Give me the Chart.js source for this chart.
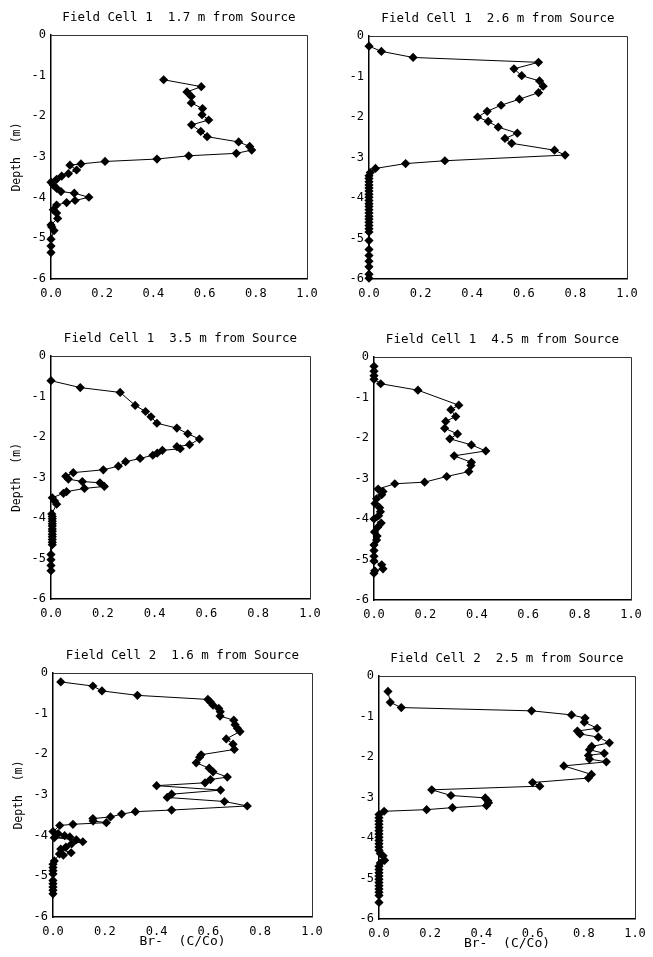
<!DOCTYPE html>
<html>
<head>
<meta charset="utf-8">
<script src="https://cdn.jsdelivr.net/npm/chart.js@4/dist/chart.umd.min.js"></script>
<style>
  html, body { margin: 0; padding: 0; background: #fff; overflow: hidden; }
  body { width: 653px; height: 957px; position: relative; }
  canvas { position: absolute; }
</style>
</head>
<body>
<script>
// Bromide profiles, [C/Co, depth (m)] top to bottom
const fc1_17m = [[0.44,-1.10],[0.587,-1.27],[0.531,-1.40],[0.548,-1.51],[0.548,-1.67],[0.592,-1.81],[0.590,-1.96],[0.616,-2.09],[0.549,-2.21],[0.585,-2.37],[0.610,-2.50],[0.733,-2.63],[0.776,-2.74],[0.784,-2.83],[0.724,-2.91],[0.538,-2.97],[0.414,-3.05],[0.211,-3.11],[0.117,-3.17],[0.074,-3.20],[0.100,-3.32],[0.068,-3.41],[0.042,-3.47],[0.022,-3.55],[0.000,-3.62],[0.009,-3.69],[0.022,-3.77],[0.039,-3.85],[0.091,-3.89],[0.148,-3.99],[0.094,-4.07],[0.061,-4.12],[0.022,-4.18],[0.009,-4.30],[0.022,-4.38],[0.026,-4.51],[0.0,-4.67],[0.003,-4.72],[0.012,-4.81],[0.0,-5.02],[0.0,-5.19],[0.0,-5.35]];

const fc1_26m = [[0.0,-0.25],[0.048,-0.38],[0.171,-0.53],[0.657,-0.65],[0.562,-0.81],[0.592,-0.98],[0.661,-1.11],[0.675,-1.24],[0.657,-1.40],[0.583,-1.56],[0.512,-1.71],[0.458,-1.86],[0.421,-2.00],[0.462,-2.11],[0.501,-2.25],[0.575,-2.40],[0.527,-2.53],[0.553,-2.65],[0.719,-2.82],[0.760,-2.94],[0.294,-3.08],[0.142,-3.15],[0.025,-3.27],[0.005,-3.37],[0,-3.45],[0,-3.52],[0,-3.60],[0,-3.68],[0,-3.75],[0,-3.83],[0,-3.91],[0,-3.98],[0,-4.06],[0,-4.14],[0,-4.21],[0,-4.29],[0,-4.37],[0,-4.45],[0,-4.52],[0,-4.60],[0,-4.68],[0,-4.76],[0,-4.84],[0,-5.05],[0,-5.27],[0,-5.42],[0,-5.56],[0,-5.70],[0,-5.88],[0,-5.98]];

const fc1_35m = [[0.0,-0.61],[0.113,-0.78],[0.267,-0.90],[0.325,-1.22],[0.365,-1.37],[0.386,-1.50],[0.409,-1.66],[0.486,-1.78],[0.528,-1.92],[0.573,-2.05],[0.535,-2.19],[0.486,-2.24],[0.499,-2.29],[0.430,-2.33],[0.410,-2.40],[0.393,-2.45],[0.344,-2.53],[0.288,-2.61],[0.260,-2.72],[0.202,-2.81],[0.086,-2.88],[0.057,-2.97],[0.067,-3.04],[0.121,-3.10],[0.189,-3.13],[0.206,-3.22],[0.129,-3.27],[0.060,-3.35],[0.048,-3.39],[0.005,-3.50],[0.014,-3.58],[0.022,-3.66],[0.003,-3.90],[0.005,-3.96],[0.005,-4.02],[0.005,-4.08],[0.005,-4.14],[0.005,-4.20],[0.005,-4.27],[0.005,-4.33],[0.005,-4.40],[0.005,-4.46],[0.005,-4.53],[0.005,-4.60],[0.005,-4.66],[0.0,-4.90],[0.0,-5.03],[0.0,-5.17],[0.0,-5.30]];

const fc1_45m = [[0.0,-0.23],[0.0,-0.35],[0.0,-0.46],[0.0,-0.55],[0.026,-0.66],[0.171,-0.82],[0.330,-1.19],[0.299,-1.30],[0.318,-1.47],[0.279,-1.59],[0.275,-1.76],[0.325,-1.90],[0.295,-2.02],[0.379,-2.17],[0.435,-2.32],[0.312,-2.44],[0.379,-2.60],[0.377,-2.68],[0.369,-2.83],[0.283,-2.95],[0.197,-3.09],[0.081,-3.13],[0.016,-3.26],[0.035,-3.32],[0.030,-3.40],[0.010,-3.50],[0.004,-3.62],[0.022,-3.72],[0.025,-3.82],[0.018,-3.92],[0.0,-4.00],[0.028,-4.10],[0.015,-4.20],[0.002,-4.32],[0.012,-4.42],[0.010,-4.52],[0.0,-4.64],[0.0,-4.78],[0.0,-4.92],[0.0,-5.04],[0.030,-5.13],[0.035,-5.23],[0.003,-5.28],[0.0,-5.34]];

const fc2_16m = [[0.030,-0.22],[0.154,-0.32],[0.189,-0.44],[0.326,-0.55],[0.598,-0.65],[0.607,-0.71],[0.618,-0.79],[0.640,-0.87],[0.646,-0.95],[0.645,-1.06],[0.698,-1.16],[0.703,-1.27],[0.712,-1.36],[0.722,-1.44],[0.669,-1.62],[0.695,-1.75],[0.700,-1.88],[0.572,-2.01],[0.566,-2.07],[0.553,-2.21],[0.603,-2.34],[0.618,-2.43],[0.673,-2.56],[0.608,-2.62],[0.587,-2.70],[0.400,-2.77],[0.647,-2.88],[0.458,-2.98],[0.441,-3.06],[0.662,-3.16],[0.750,-3.27],[0.458,-3.37],[0.318,-3.41],[0.265,-3.47],[0.222,-3.54],[0.154,-3.58],[0.155,-3.64],[0.206,-3.68],[0.077,-3.72],[0.026,-3.75],[0.0,-3.90],[0.020,-3.95],[0.045,-4.00],[0.065,-4.03],[0.005,-4.05],[0.090,-4.10],[0.115,-4.15],[0.072,-4.20],[0.050,-4.28],[0.030,-4.33],[0.070,-4.42],[0.040,-4.48],[0.025,-4.45],[0.005,-4.62],[0.0,-4.70],[0.0,-4.78],[0.0,-4.86],[0.0,-4.94],[0.0,-5.10],[0.0,-5.18],[0.0,-5.26],[0.0,-5.34],[0.0,-5.43]];

const fc2_25m = [[0.035,-0.38],[0.044,-0.65],[0.087,-0.78],[0.596,-0.86],[0.752,-0.96],[0.805,-1.04],[0.802,-1.14],[0.852,-1.29],[0.775,-1.36],[0.785,-1.43],[0.857,-1.51],[0.900,-1.65],[0.831,-1.74],[0.822,-1.82],[0.880,-1.91],[0.818,-1.96],[0.822,-2.05],[0.888,-2.12],[0.722,-2.22],[0.830,-2.43],[0.818,-2.52],[0.600,-2.63],[0.628,-2.72],[0.206,-2.81],[0.281,-2.95],[0.415,-3.01],[0.425,-3.08],[0.428,-3.13],[0.420,-3.20],[0.287,-3.25],[0.186,-3.30],[0.020,-3.34],[0.0,-3.42],[0.0,-3.50],[0.0,-3.58],[0.0,-3.66],[0.0,-3.74],[0.0,-3.82],[0.0,-3.90],[0.0,-3.98],[0.0,-4.06],[0.0,-4.14],[0.0,-4.22],[0.0,-4.30],[0.005,-4.38],[0.016,-4.44],[0.022,-4.55],[0.005,-4.62],[0.0,-4.70],[0.0,-4.78],[0.0,-4.86],[0.0,-4.94],[0.0,-5.02],[0.0,-5.10],[0.0,-5.18],[0.0,-5.26],[0.0,-5.34],[0.0,-5.42],[0.0,-5.59]];

const titles = [
  'Field Cell 1  1.7 m from Source',
  'Field Cell 1  2.6 m from Source',
  'Field Cell 1  3.5 m from Source',
  'Field Cell 1  4.5 m from Source',
  'Field Cell 2  1.6 m from Source',
  'Field Cell 2  2.5 m from Source'
];
const concTicks = [0, 0.2, 0.4, 0.6, 0.8, 1.0];
const depthTicks = [0, -1, -2, -3, -4, -5, -6];
const xAxisTitle = 'Br-  (C/Co)';
const yAxisTitle = 'Depth  (m)';

const FONT = "'DejaVu Sans Mono', 'Liberation Mono', monospace";

// plot box of each panel in page pixels: left, top, right, bottom
const panels = [
  { data: fc1_17m, box: [51, 35, 307, 279],  yTitle: true,  xTitle: false },
  { data: fc1_26m, box: [369, 36, 627, 279], yTitle: false, xTitle: false },
  { data: fc1_35m, box: [51, 356, 310, 599], yTitle: true,  xTitle: false },
  { data: fc1_45m, box: [374, 357, 631, 600], yTitle: false, xTitle: false },
  { data: fc2_16m, box: [53, 673, 312, 917], yTitle: true,  xTitle: true },
  { data: fc2_25m, box: [379, 676, 635, 919], yTitle: false, xTitle: true }
];

const YW = 50, TITLE_H = 32, PAD_R = 22;

// top and right sides of the box
const framePlugin = {
  id: 'frame',
  afterDraw(chart) {
    const { ctx, chartArea: a } = chart;
    ctx.save();
    ctx.strokeStyle = '#333';
    ctx.lineWidth = 1;
    ctx.beginPath();
    ctx.moveTo(a.left, Math.round(a.top) + 0.5);
    ctx.lineTo(Math.round(a.right) + 0.5, Math.round(a.top) + 0.5);
    ctx.lineTo(Math.round(a.right) + 0.5, a.bottom);
    ctx.stroke();
    ctx.restore();
  }
};

panels.forEach(function(p, i) {
  const [L, T, R, B] = p.box;
  const xh = p.xTitle ? 38 : 26;
  const canvas = document.createElement('canvas');
  canvas.width = (R - L) + YW + PAD_R;
  canvas.height = (B - T) + TITLE_H + xh;
  canvas.style.left = (L - YW) + 'px';
  canvas.style.top = (T - TITLE_H) + 'px';
  document.body.appendChild(canvas);

  new Chart(canvas, {
    type: 'scatter',
    data: {
      datasets: [{
        data: p.data.map(([c, d]) => ({ x: c, y: d })),
        showLine: true,
        borderColor: '#000',
        borderWidth: 1,
        pointStyle: 'rectRot',
        pointRadius: 4.6,
        pointBackgroundColor: '#000',
        pointBorderColor: '#000',
        pointBorderWidth: 0,
        clip: false
      }]
    },
    options: {
      responsive: false,
      animation: false,
      events: [],
      layout: { padding: { left: 0, right: PAD_R, top: 0, bottom: 0 } },
      plugins: {
        legend: { display: false },
        tooltip: { enabled: false },
        title: {
          display: true,
          fullSize: false,
          text: titles[i],
          color: '#000',
          font: { family: FONT, size: 12.5, weight: 'normal' },
          padding: { top: 7.5, bottom: 9.5 }
        }
      },
      scales: {
        x: {
          type: 'linear',
          min: 0,
          max: 1,
          grid: { display: false, drawTicks: false },
          border: { color: '#000', width: 1.5 },
          afterBuildTicks: s => { s.ticks = concTicks.map(v => ({ value: v })); },
          afterFit: s => { s.height = xh; },
          ticks: {
            color: '#000',
            font: { family: FONT, size: 12 },
            padding: 8,
            maxRotation: 0,
            autoSkip: false,
            callback: v => v.toFixed(1)
          },
          title: {
            display: p.xTitle,
            text: xAxisTitle,
            color: '#000',
            font: { family: FONT, size: 13 },
            padding: { top: 0, bottom: 5.8 }
          }
        },
        y: {
          type: 'linear',
          min: -6,
          max: 0,
          grid: { display: false, drawTicks: false },
          border: { color: '#000', width: 1.5 },
          afterBuildTicks: s => { s.ticks = depthTicks.map(v => ({ value: v })); },
          afterFit: s => { s.width = YW; },
          ticks: {
            color: '#000',
            font: { family: FONT, size: 12 },
            padding: 5,
            autoSkip: false,
            callback: v => String(v)
          },
          title: {
            display: p.yTitle,
            text: yAxisTitle,
            color: '#000',
            font: { family: FONT, size: 11.5 },
            padding: { top: 9, bottom: 0 }
          }
        }
      }
    },
    plugins: [framePlugin]
  });
});
</script>
</body>
</html>
